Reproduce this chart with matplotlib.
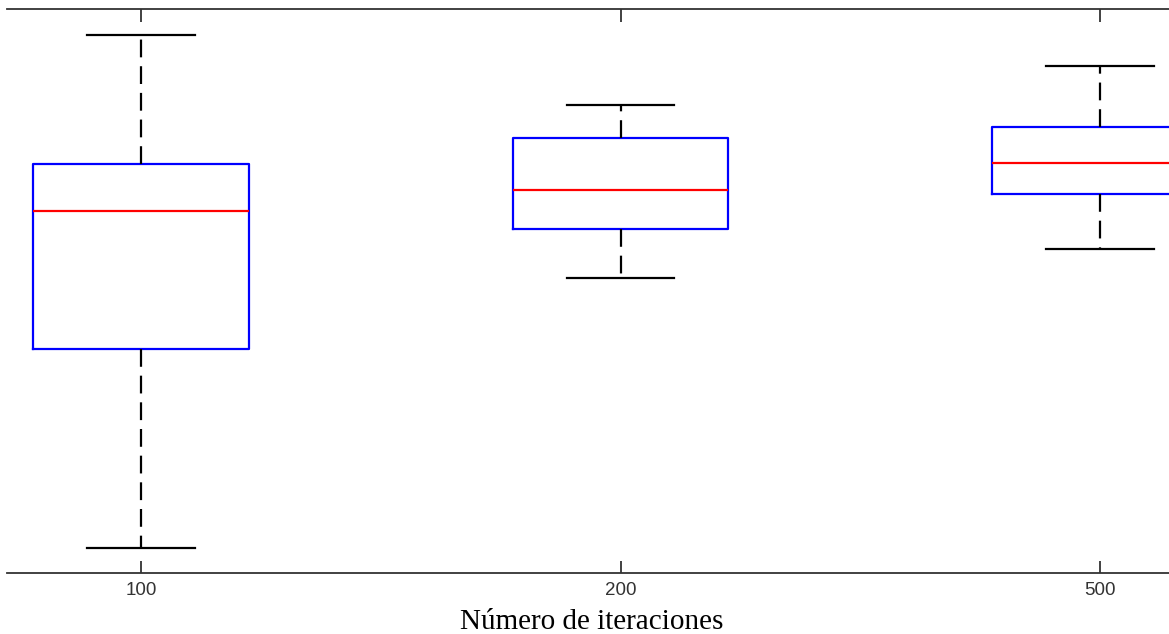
import matplotlib
matplotlib.use("Agg")
import matplotlib.pyplot as plt

# boxplot summary values (arbitrary y units, 0-100)
labels = ['100', '200', '500']
positions = [1, 2, 3]
whisker_low = [4.5, 52.4, 57.5]
q1 = [39.7, 61.0, 67.2]
median = [64.2, 68.0, 72.8]
q3 = [72.5, 77.2, 79.2]
whisker_high = [95.4, 83.0, 90.0]

stats = []
for i, lab in enumerate(labels):
    stats.append({
        'label': lab,
        'whislo': whisker_low[i],
        'q1': q1[i],
        'med': median[i],
        'q3': q3[i],
        'whishi': whisker_high[i],
        'fliers': [],
    })

fig = plt.figure(figsize=(11.69, 6.34), dpi=100)
W, H = 1169, 634
x_left, x_right = 0.7205, 3.5
px_per_unit = 479.5
ax_w = (x_right - x_left) * px_per_unit / W
ax = fig.add_axes([7 / W, (H - 573.3) / H, ax_w, (573.3 - 9.3) / H])

ax.bxp(stats, positions=positions, widths=0.45, showfliers=False,
       boxprops=dict(color='#0000ff', linewidth=1.6),
       medianprops=dict(color='#ff0000', linewidth=1.6),
       whiskerprops=dict(color='black', linewidth=1.6, linestyle=(0, (8, 4))),
       capprops=dict(color='black', linewidth=1.6))

ax.set_xlim(x_left, x_right)
ax.set_ylim(0, 100)
ax.set_xticks(positions)
ax.set_xticklabels(labels, fontsize=13.5, family='Liberation Sans', color='#333333')
ax.set_yticks([])

for s in ['left', 'right']:
    ax.spines[s].set_visible(False)
for s in ['top', 'bottom']:
    ax.spines[s].set_color('#333333')
    ax.spines[s].set_linewidth(1.3)

ax.tick_params(axis='x', direction='in', length=9, width=1.3, color='#333333',
               top=True, bottom=True, pad=6)

fig.text(592 / W, 1 - 629 / H, 'Número de iteraciones', ha='center', va='baseline',
         fontsize=21, family='Liberation Serif', color='black')

fig.savefig('out.png', dpi=100)
